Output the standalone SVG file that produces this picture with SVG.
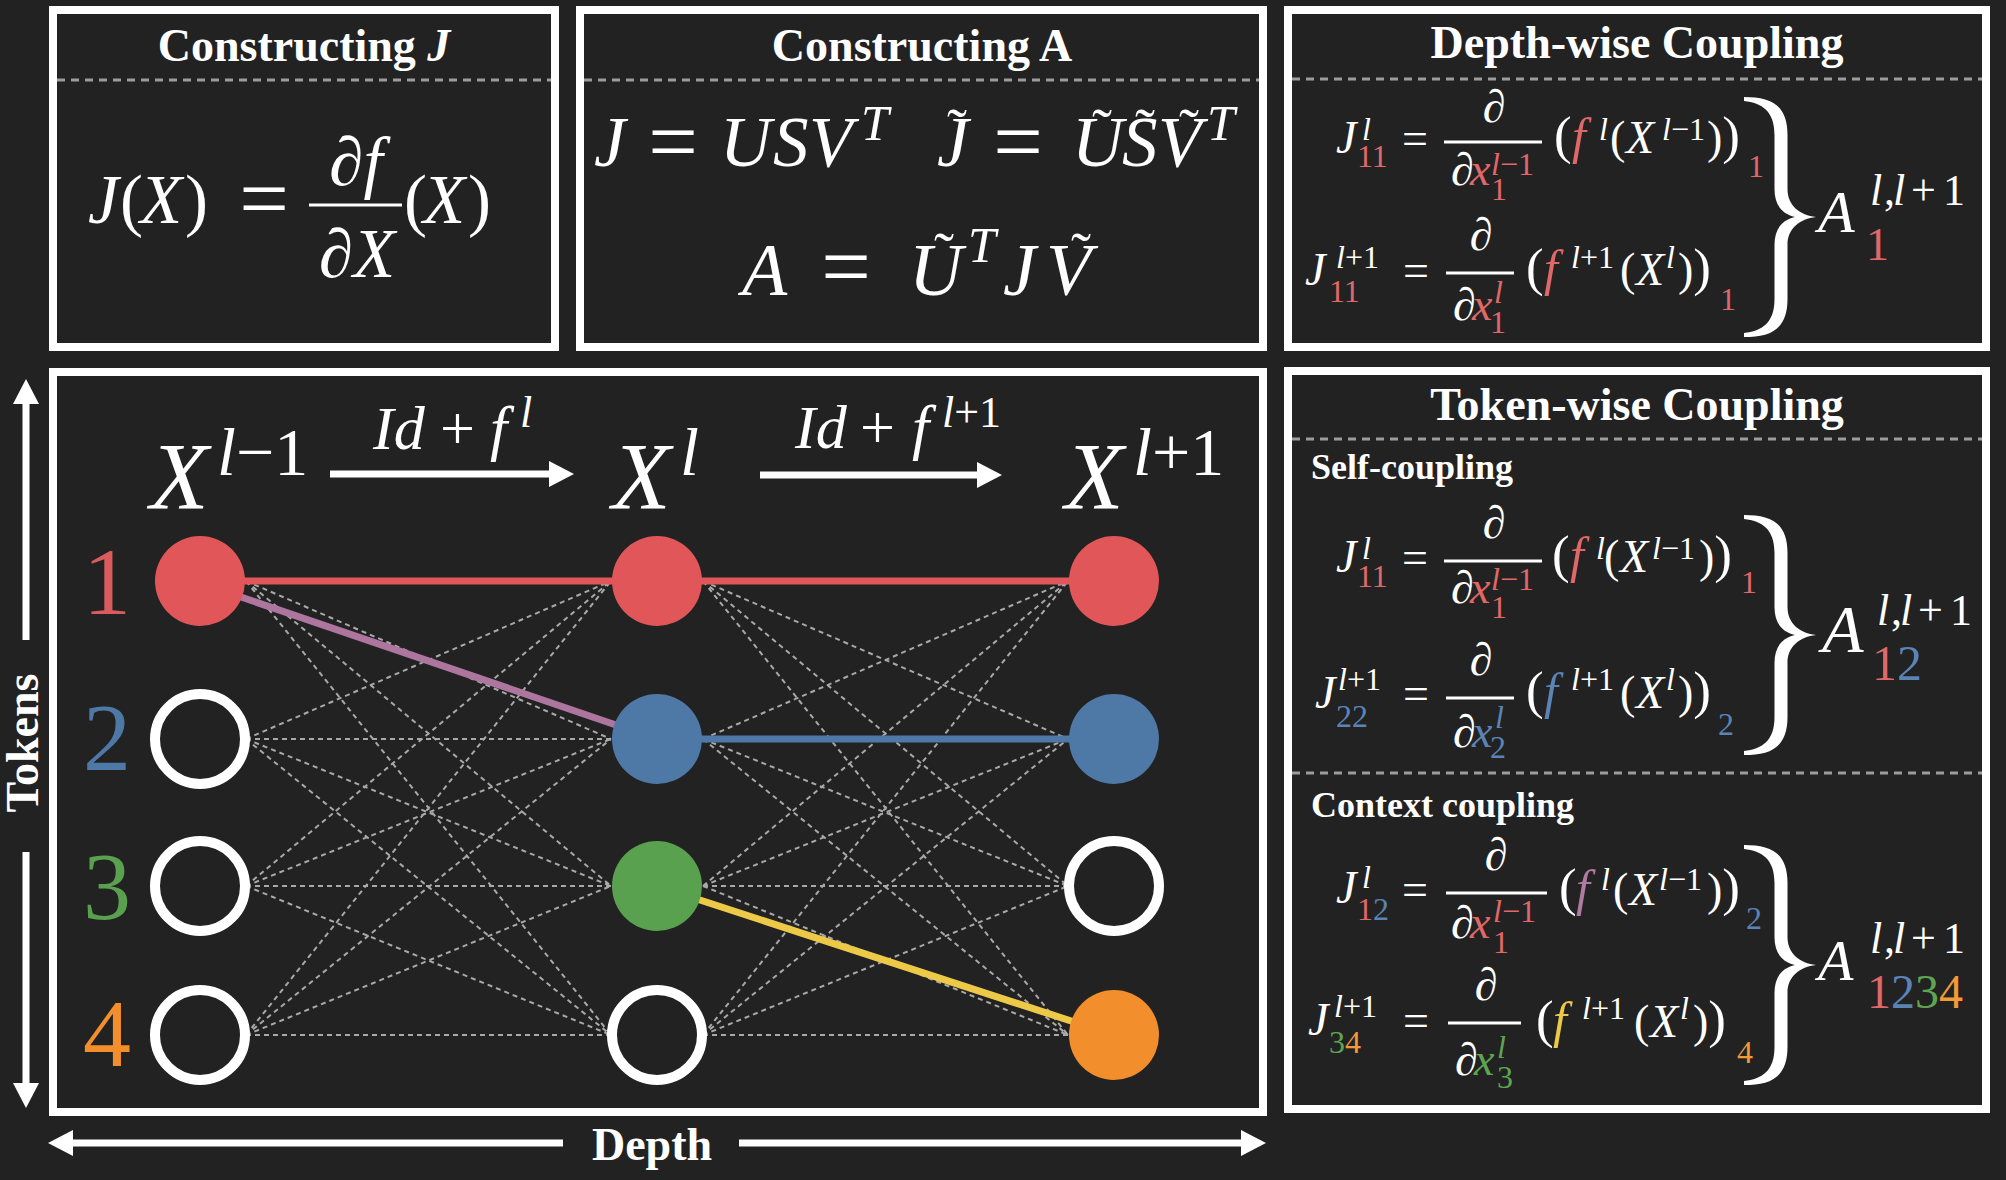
<svg xmlns="http://www.w3.org/2000/svg" width="2006" height="1180" viewBox="0 0 2006 1180">
<style>
text{font-family:"Liberation Serif","Times New Roman","DejaVu Serif",serif;fill:#fff}
.ttl{font-weight:bold;font-size:46px;text-anchor:middle}
.sh{font-weight:bold;font-size:36px}
.i{font-style:italic}
.mid{text-anchor:middle}
.bp{font-size:53px}
.box{fill:#222;stroke:#fff;stroke-width:8}
.sep{stroke:#9c9c9c;stroke-width:3;stroke-dasharray:8 6}
.bar{stroke:#fff;stroke-width:3}
.edge{stroke:#a9a9a9;stroke-width:2;stroke-dasharray:5 4;fill:none}
.sol{stroke-width:7;fill:none}
.arr{stroke:#fff;stroke-width:7;fill:none;marker-end:url(#ah)}
.hollow{fill:#222;stroke:#fff;stroke-width:10}
.R{fill:#e06868}.B{fill:#5a84b6}.G{fill:#5ea553}.O{fill:#f29a38}.Y{fill:#edc948}.P{fill:#b07aa1}
</style>
<defs>
<marker id="ah" markerUnits="userSpaceOnUse" markerWidth="26" markerHeight="26" refX="0" refY="13" orient="auto" viewBox="0 0 26 26"><path d="M0,0L25,13L0,26z" fill="#fff"/></marker>
<path id="brace" fill="#fff" d="M1744,0 C1770,0 1787.5,7 1787.5,38 L1787.5,92 C1787.5,109 1800,118 1816,120 C1800,122 1787.5,131 1787.5,148 L1787.5,202 C1787.5,233 1770,240 1744,240 L1744,236 C1762,234 1774.5,226 1774.5,202 L1774.5,148 C1774.5,132 1782,123 1795,120 C1782,117 1774.5,108 1774.5,92 L1774.5,38 C1774.5,14 1762,6 1744,4 Z"/>
</defs>
<rect x="0" y="0" width="2006" height="1180" fill="#222"/>

<g id="box-constructing-j">
<rect class="box" x="53" y="10" width="502" height="337"/>
<line class="sep" x1="57" y1="80" x2="551" y2="80"/>
<text class="ttl" x="304" y="61">Constructing <tspan class="i">J</tspan></text>
<text font-size="69" y="223"><tspan class="i" x="88">J</tspan><tspan x="120">(</tspan><tspan class="i" x="140">X</tspan><tspan x="185">)</tspan></text>
<text class="mid" font-size="88" x="264" y="228">=</text>
<text class="i mid" font-size="69" x="356" y="185">∂f</text>
<line class="bar" stroke-width="4" x1="309" y1="205" x2="402" y2="205"/>
<text class="i mid" font-size="69" x="357" y="277">∂X</text>
<text font-size="69" y="223"><tspan x="404">(</tspan><tspan class="i" x="423">X</tspan><tspan x="468">)</tspan></text>
</g>

<g id="box-constructing-a">
<rect class="box" x="580" y="10" width="683" height="337"/>
<line class="sep" x1="584" y1="80" x2="1259" y2="80"/>
<text class="ttl" x="922" y="61">Constructing A</text>
<text font-size="71" y="166"><tspan class="i" x="594">J</tspan><tspan class="i" x="720">U</tspan><tspan class="i" x="773">S</tspan><tspan class="i" x="809">V</tspan></text>
<text class="mid" font-size="88" x="673" y="171">=</text>
<text class="i" font-size="50" x="861" y="140">T</text>
<text font-size="71" y="166"><tspan class="i" x="937">J</tspan><tspan class="i" x="1072">U</tspan><tspan class="i" x="1122">S</tspan><tspan class="i" x="1158">V</tspan></text>
<text class="mid" font-size="88" x="1018" y="171">=</text>
<text class="i" font-size="50" x="1207" y="140">T</text>
<text class="mid" font-size="60" y="149"><tspan x="957">˜</tspan><tspan x="1102">˜</tspan><tspan x="1145">˜</tspan><tspan x="1189">˜</tspan></text>
<text font-size="74" y="295"><tspan class="i" x="742">A</tspan><tspan class="i" x="909">U</tspan><tspan class="i" x="1003">J</tspan><tspan class="i" x="1046">V</tspan></text>
<text class="mid" font-size="88" x="846" y="296">=</text>
<text class="i" font-size="50" x="968" y="262">T</text>
<text class="mid" font-size="60" y="273"><tspan x="944">˜</tspan><tspan x="1081">˜</tspan></text>
</g>

<g id="box-depth-wise">
<rect class="box" x="1288" y="10" width="698" height="337"/>
<line class="sep" x1="1292" y1="79" x2="1982" y2="79"/>
<text class="ttl" x="1637" y="58">Depth-wise Coupling</text>
<text font-size="46" y="153"><tspan class="i" x="1336">J</tspan></text>
<text font-size="32"><tspan class="i" x="1362" y="140">l</tspan><tspan class="R" x="1357" y="167">11</tspan></text>
<text class="mid" font-size="46" x="1415" y="154">=</text>
<line class="bar" x1="1444" y1="142" x2="1542" y2="142"/>
<text class="i mid" font-size="46" x="1494" y="122">∂</text>
<text font-size="46" y="185"><tspan class="i" x="1451">∂</tspan><tspan class="i R" x="1470">x</tspan></text>
<text class="R" font-size="32"><tspan x="1491" y="175"><tspan class="i">l</tspan>−1</tspan><tspan x="1491" y="200">1</tspan></text>
<text font-size="46" y="153"><tspan class="bp" x="1554">(</tspan><tspan class="i R" x="1572" font-size="50">f</tspan><tspan x="1610">(</tspan><tspan class="i" x="1626">X</tspan><tspan x="1707">)</tspan><tspan class="bp">)</tspan></text>
<text font-size="32" y="140"><tspan class="i" x="1599">l</tspan><tspan class="i" x="1662">l</tspan><tspan>−1</tspan></text>
<text class="R" font-size="32" x="1748" y="177">1</text>
<text font-size="46" y="285"><tspan class="i" x="1305">J</tspan></text>
<text font-size="32"><tspan x="1336" y="268"><tspan class="i">l</tspan>+1</tspan><tspan class="R" x="1329" y="302">11</tspan></text>
<text class="mid" font-size="46" x="1416" y="286">=</text>
<line class="bar" x1="1446" y1="273" x2="1514" y2="273"/>
<text class="i mid" font-size="46" x="1481" y="250">∂</text>
<text font-size="46" y="320"><tspan class="i" x="1453">∂</tspan><tspan class="i R" x="1472">x</tspan></text>
<text class="R" font-size="32"><tspan class="i" x="1494" y="303">l</tspan><tspan x="1490" y="333">1</tspan></text>
<text font-size="46" y="285"><tspan class="bp" x="1526">(</tspan><tspan class="i R" x="1544" font-size="50">f</tspan><tspan x="1620">(</tspan><tspan class="i" x="1636">X</tspan><tspan x="1678">)</tspan><tspan class="bp">)</tspan></text>
<text font-size="32" y="268"><tspan x="1571"><tspan class="i">l</tspan>+1</tspan><tspan class="i" x="1666">l</tspan></text>
<text class="R" font-size="32" x="1720" y="310">1</text>
<use href="#brace" transform="translate(0,97)"/>
<text class="i" font-size="60" x="1818" y="232">A</text>
<text font-size="44" y="205"><tspan class="i" x="1870">l</tspan><tspan x="1884">,</tspan><tspan class="i" x="1893">l</tspan><tspan x="1911">+</tspan><tspan x="1943">1</tspan></text>
<text class="R" font-size="46" x="1866" y="260">1</text>
</g>

<g id="box-token-wise">
<rect class="box" x="1288" y="371" width="698" height="738"/>
<line class="sep" x1="1292" y1="439" x2="1982" y2="439"/>
<line class="sep" x1="1292" y1="773" x2="1982" y2="773"/>
<text class="ttl" x="1637" y="420">Token-wise Coupling</text>
<text class="sh" x="1311" y="479">Self-coupling</text>
<text class="sh" x="1311" y="817">Context coupling</text>
<text font-size="46" y="572"><tspan class="i" x="1336">J</tspan></text>
<text font-size="32"><tspan class="i" x="1362" y="559">l</tspan><tspan class="R" x="1357" y="587">11</tspan></text>
<text class="mid" font-size="46" x="1415" y="573">=</text>
<line class="bar" x1="1444" y1="561" x2="1542" y2="561"/>
<text class="i mid" font-size="46" x="1494" y="538">∂</text>
<text font-size="46" y="603"><tspan class="i" x="1451">∂</tspan><tspan class="i R" x="1470">x</tspan></text>
<text class="R" font-size="32"><tspan x="1491" y="590"><tspan class="i">l</tspan>−1</tspan><tspan x="1491" y="618">1</tspan></text>
<text font-size="46" y="572"><tspan class="bp" x="1552">(</tspan><tspan class="i R" x="1570" font-size="50">f</tspan><tspan x="1604">(</tspan><tspan class="i" x="1620">X</tspan><tspan x="1699">)</tspan><tspan class="bp">)</tspan></text>
<text font-size="32" y="559"><tspan class="i" x="1596">l</tspan><tspan class="i" x="1652">l</tspan><tspan>−1</tspan></text>
<text class="R" font-size="32" x="1741" y="593">1</text>
<text font-size="46" y="708"><tspan class="i" x="1315">J</tspan></text>
<text font-size="32"><tspan x="1338" y="690"><tspan class="i">l</tspan>+1</tspan><tspan class="B" x="1336" y="727">22</tspan></text>
<text class="mid" font-size="46" x="1416" y="709">=</text>
<line class="bar" x1="1446" y1="698" x2="1514" y2="698"/>
<text class="i mid" font-size="46" x="1481" y="675">∂</text>
<text font-size="46" y="747"><tspan class="i" x="1453">∂</tspan><tspan class="i B" x="1472">x</tspan></text>
<text class="B" font-size="32"><tspan class="i" x="1495" y="728">l</tspan><tspan x="1490" y="758">2</tspan></text>
<text font-size="46" y="708"><tspan class="bp" x="1526">(</tspan><tspan class="i B" x="1544" font-size="50">f</tspan><tspan x="1620">(</tspan><tspan class="i" x="1636">X</tspan><tspan x="1678">)</tspan><tspan class="bp">)</tspan></text>
<text font-size="32" y="690"><tspan x="1571"><tspan class="i">l</tspan>+1</tspan><tspan class="i" x="1666">l</tspan></text>
<text class="B" font-size="32" x="1718" y="735">2</text>
<use href="#brace" transform="translate(0,515)"/>
<text class="i" font-size="68" x="1822" y="652">A</text>
<text font-size="44" y="625"><tspan class="i" x="1877">l</tspan><tspan x="1891">,</tspan><tspan class="i" x="1900">l</tspan><tspan x="1918">+</tspan><tspan x="1950">1</tspan></text>
<text font-size="50" x="1872" y="680"><tspan class="R">1</tspan><tspan class="B">2</tspan></text>
<text font-size="46" y="903"><tspan class="i" x="1336">J</tspan></text>
<text font-size="32"><tspan class="i" x="1362" y="888">l</tspan><tspan class="R" x="1357" y="920">1</tspan><tspan class="B">2</tspan></text>
<text class="mid" font-size="46" x="1415" y="905">=</text>
<line class="bar" x1="1446" y1="893" x2="1547" y2="893"/>
<text class="i mid" font-size="46" x="1496" y="870">∂</text>
<text font-size="46" y="938"><tspan class="i" x="1451">∂</tspan><tspan class="i R" x="1470">x</tspan></text>
<text class="R" font-size="32"><tspan x="1493" y="922"><tspan class="i">l</tspan>−1</tspan><tspan x="1493" y="953">1</tspan></text>
<text font-size="46" y="905"><tspan class="bp" x="1559">(</tspan><tspan class="i P" x="1576" font-size="50">f</tspan><tspan x="1613">(</tspan><tspan class="i" x="1629">X</tspan><tspan x="1707">)</tspan><tspan class="bp">)</tspan></text>
<text font-size="32" y="890"><tspan class="i" x="1601">l</tspan><tspan class="i" x="1659">l</tspan><tspan>−1</tspan></text>
<text class="B" font-size="32" x="1746" y="929">2</text>
<text font-size="46" y="1035"><tspan class="i" x="1308">J</tspan></text>
<text font-size="32"><tspan x="1334" y="1017"><tspan class="i">l</tspan>+1</tspan><tspan class="G" x="1329" y="1053">3</tspan><tspan class="O">4</tspan></text>
<text class="mid" font-size="46" x="1416" y="1036">=</text>
<line class="bar" x1="1448" y1="1023" x2="1521" y2="1023"/>
<text class="i mid" font-size="46" x="1486" y="1000">∂</text>
<text font-size="46" y="1075"><tspan class="i" x="1455">∂</tspan><tspan class="i G" x="1474">x</tspan></text>
<text class="G" font-size="32"><tspan class="i" x="1497" y="1058">l</tspan><tspan x="1497" y="1088">3</tspan></text>
<text font-size="46" y="1037"><tspan class="bp" x="1536">(</tspan><tspan class="i Y" x="1553" font-size="50">f</tspan><tspan x="1634">(</tspan><tspan class="i" x="1650">X</tspan><tspan x="1693">)</tspan><tspan class="bp">)</tspan></text>
<text font-size="32" y="1019"><tspan x="1582"><tspan class="i">l</tspan>+1</tspan><tspan class="i" x="1680">l</tspan></text>
<text class="O" font-size="32" x="1737" y="1063">4</text>
<use href="#brace" transform="translate(0,845)"/>
<text class="i" font-size="58" x="1818" y="980">A</text>
<text font-size="44" y="953"><tspan class="i" x="1870">l</tspan><tspan x="1884">,</tspan><tspan class="i" x="1893">l</tspan><tspan x="1911">+</tspan><tspan x="1943">1</tspan></text>
<text font-size="48" x="1867" y="1008"><tspan class="R">1</tspan><tspan class="B">2</tspan><tspan class="G">3</tspan><tspan class="O">4</tspan></text>
</g>

<g id="graph-frame">
<rect class="box" x="53" y="372" width="1210" height="740"/>
<text class="i" font-size="96" x="150" y="509">X</text>
<text font-size="68" x="217" y="475"><tspan class="i">l</tspan>−1</text>
<text class="i" font-size="96" x="612" y="509">X</text>
<text class="i" font-size="68" x="680" y="475">l</text>
<text class="i" font-size="96" x="1065" y="509">X</text>
<text font-size="68" x="1133" y="475"><tspan class="i">l</tspan>+1</text>
<text font-size="62" y="449"><tspan class="i" x="373">Id</tspan><tspan x="440">+</tspan><tspan class="i" x="490">f</tspan></text>
<text class="i" font-size="44" x="520" y="427">l</text>
<text font-size="62" y="448"><tspan class="i" x="795">Id</tspan><tspan x="860">+</tspan><tspan class="i" x="912">f</tspan></text>
<text font-size="44" x="942" y="427"><tspan class="i">l</tspan>+1</text>
<text class="mid" font-size="96" x="107" y="614" style="fill:#d95b5e">1</text>
<text class="mid" font-size="96" x="107" y="770" style="fill:#4e79a7">2</text>
<text class="mid" font-size="96" x="107" y="919" style="fill:#59a14f">3</text>
<text class="mid" font-size="96" x="107" y="1066" style="fill:#f28e2b">4</text>
</g>

<g id="axes">
<line class="arr" stroke-width="6" x1="26" y1="640" x2="26" y2="404"/>
<line class="arr" stroke-width="6" x1="26" y1="852" x2="26" y2="1083"/>
<text class="ttl" font-size="44" transform="translate(38,743) rotate(-90)" x="0" y="0">Tokens</text>
<line class="arr" x1="563" y1="1143" x2="73" y2="1143"/>
<line class="arr" x1="739" y1="1143" x2="1241" y2="1143"/>
<text class="ttl" x="652" y="1160">Depth</text>
</g>

<g id="connectors">
<path class="edge" d="M246 581L611 581M246 581L611 739M246 581L611 886M246 581L611 1035M246 739L611 581M246 739L611 739M246 739L611 886M246 739L611 1035M246 886L611 581M246 886L611 739M246 886L611 886M246 886L611 1035M246 1035L611 581M246 1035L611 739M246 1035L611 886M246 1035L611 1035"/>
<path class="edge" d="M703 581L1068 581M703 581L1068 739M703 581L1068 886M703 581L1068 1035M703 739L1068 581M703 739L1068 739M703 739L1068 886M703 739L1068 1035M703 886L1068 581M703 886L1068 739M703 886L1068 886M703 886L1068 1035M703 1035L1068 581M703 1035L1068 739M703 1035L1068 886M703 1035L1068 1035"/>
<line class="sol" stroke="#e15759" x1="200" y1="581" x2="657" y2="581"/>
<line class="sol" stroke="#ad769e" x1="200" y1="583" x2="657" y2="739"/>
<line class="sol" stroke="#e15759" x1="657" y1="581" x2="1114" y2="581"/>
<line class="sol" stroke="#4e79a7" x1="657" y1="739" x2="1114" y2="739"/>
<line class="sol" stroke="#edc948" x1="657" y1="886" x2="1114" y2="1035"/>
<line class="arr" x1="330" y1="474" x2="549" y2="474"/>
<line class="arr" x1="760" y1="475" x2="977" y2="475"/>
</g>

<g id="node-x0-1"><circle cx="200" cy="581" r="45" fill="#e15759"/></g>
<g id="node-x0-2"><circle class="hollow" cx="200" cy="739" r="45"/></g>
<g id="node-x0-3"><circle class="hollow" cx="200" cy="886" r="45"/></g>
<g id="node-x0-4"><circle class="hollow" cx="200" cy="1035" r="45"/></g>
<g id="node-x1-1"><circle cx="657" cy="581" r="45" fill="#e15759"/></g>
<g id="node-x1-2"><circle cx="657" cy="739" r="45" fill="#4e79a7"/></g>
<g id="node-x1-3"><circle cx="657" cy="886" r="45" fill="#59a14f"/></g>
<g id="node-x1-4"><circle class="hollow" cx="657" cy="1035" r="45"/></g>
<g id="node-x2-1"><circle cx="1114" cy="581" r="45" fill="#e15759"/></g>
<g id="node-x2-2"><circle cx="1114" cy="739" r="45" fill="#4e79a7"/></g>
<g id="node-x2-3"><circle class="hollow" cx="1114" cy="886" r="45"/></g>
<g id="node-x2-4"><circle cx="1114" cy="1035" r="45" fill="#f28e2b"/></g>
</svg>
